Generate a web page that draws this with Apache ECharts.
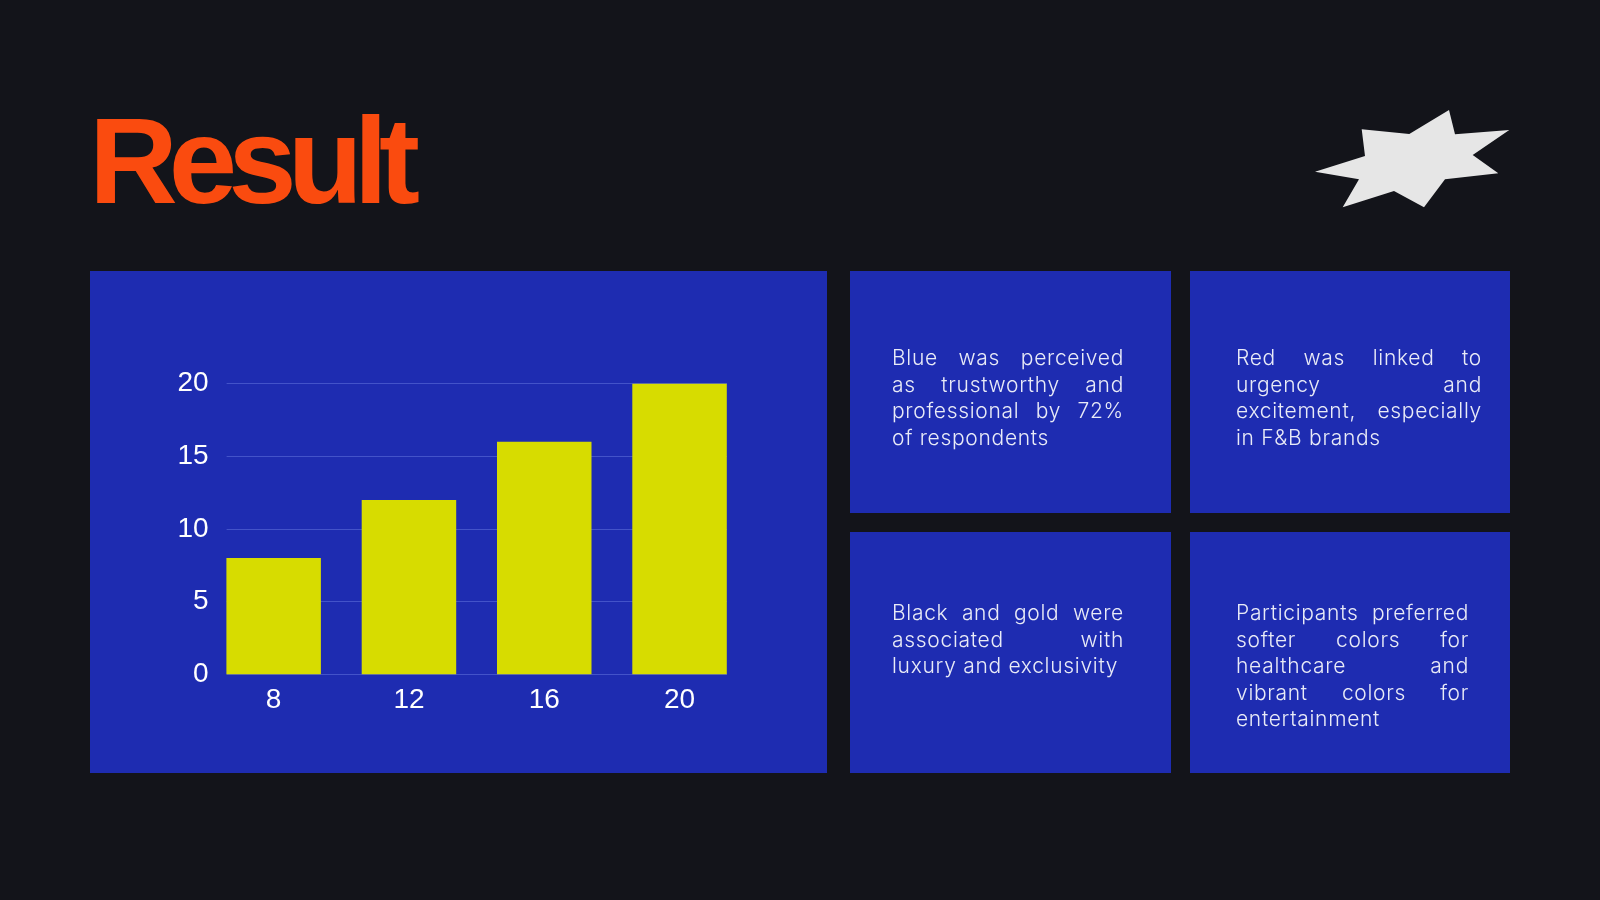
<!DOCTYPE html>
<html>
<head>
<meta charset="utf-8">
<title>Result</title>
<script src="https://cdn.jsdelivr.net/npm/echarts@6/dist/echarts.min.js"></script>
<style>
  html, body { margin: 0; padding: 0; background: #13141a; }
  #page { position: relative; width: 1600px; height: 900px; overflow: hidden; }
  .panel { position: absolute; background: #1e2cb1; }
  #title {
    position: absolute; left: 89px; top: 99px; margin: 0;
    font-family: "Liberation Sans", Arial, sans-serif; font-weight: 700;
    font-size: 123px; line-height: 123px; letter-spacing: -9px; color: #fa4b0f;
  }
  #chart { position: absolute; left: 0; top: 0; width: 1600px; height: 900px; }
  .note {
    position: absolute; margin: 0; color: #e9ebf7;
    font-family: Inter, "Noto Sans", sans-serif; font-weight: 300;
    font-size: 21px; line-height: 26.6px; letter-spacing: 0.7px;
    text-align: justify;
  }
</style>
</head>
<body>
<div id="page">
  <div class="panel" style="left:90px;top:271px;width:737px;height:502px"></div>
  <div class="panel" style="left:850px;top:271px;width:321px;height:242px"></div>
  <div class="panel" style="left:1190px;top:271px;width:320px;height:242px"></div>
  <div class="panel" style="left:850px;top:532px;width:321px;height:241px"></div>
  <div class="panel" style="left:1190px;top:532px;width:320px;height:241px"></div>
  <h1 id="title">Result</h1>
  <div id="chart"></div>
  <p class="note" style="left:892px;top:345px;width:232px">Blue was perceived as trustworthy and professional by 72% of respondents</p>
  <p class="note" style="left:1236px;top:345px;width:246px">Red was linked to urgency and excitement, especially in F&amp;B brands</p>
  <p class="note" style="left:892px;top:600px;width:232px">Black and gold were associated with luxury and exclusivity</p>
  <p class="note" style="left:1236px;top:600px;width:233px">Participants preferred softer colors for healthcare and vibrant colors for entertainment</p>
</div>
<script>
// chart data
var categories = ['8', '12', '16', '20'];
var values = [8, 12, 16, 20];
var yTicks = [0, 5, 10, 15, 20];

var chart = echarts.init(document.getElementById('chart'));

var labelFont = {
  color: '#ffffff',
  fontFamily: '"Liberation Sans", Arial, sans-serif',
  fontSize: 28
};

var option = {
  backgroundColor: 'transparent',
  animation: false,
  grid: [
    // gridlines span bar edge to bar edge, like the original
    { left: 226.6, top: 383.7, width: 500.4, height: 290.6 },
    // bar bands, 135.3px each
    { left: 206, top: 383.7, width: 541.2, height: 290.6 }
  ],
  xAxis: [
    { gridIndex: 0, type: 'category', data: categories, show: false },
    {
      gridIndex: 1,
      type: 'category',
      data: categories,
      axisLine: { show: false },
      axisTick: { show: false },
      axisLabel: Object.assign({ margin: 12 }, labelFont)
    }
  ],
  yAxis: [
    {
      gridIndex: 0,
      type: 'value',
      min: yTicks[0],
      max: yTicks[yTicks.length - 1],
      interval: yTicks[1] - yTicks[0],
      axisLine: { show: false },
      axisTick: { show: false },
      axisLabel: Object.assign({ margin: 18, padding: [4, 0, 0, 0] }, labelFont),
      splitLine: { lineStyle: { color: '#4353c9', width: 1 } }
    },
    {
      gridIndex: 1,
      type: 'value',
      min: yTicks[0],
      max: yTicks[yTicks.length - 1],
      show: false
    }
  ],
  series: [{
    type: 'bar',
    xAxisIndex: 1,
    yAxisIndex: 1,
    data: values,
    barWidth: 94.5,
    itemStyle: { color: '#d7dc00' }
  }],
  graphic: [{
    type: 'polygon',
    shape: {
      points: [
        [1315, 171.7], [1365, 156], [1361.7, 129.3], [1409.3, 134],
        [1449, 110], [1455, 134.3], [1509.3, 130], [1472.7, 155],
        [1498.3, 173.3], [1445, 179.3], [1424, 207.3], [1394, 191],
        [1342.7, 207.3], [1359, 179.3]
      ]
    },
    style: { fill: '#e6e6e6' }
  }]
};

chart.setOption(option);
</script>
</body>
</html>
